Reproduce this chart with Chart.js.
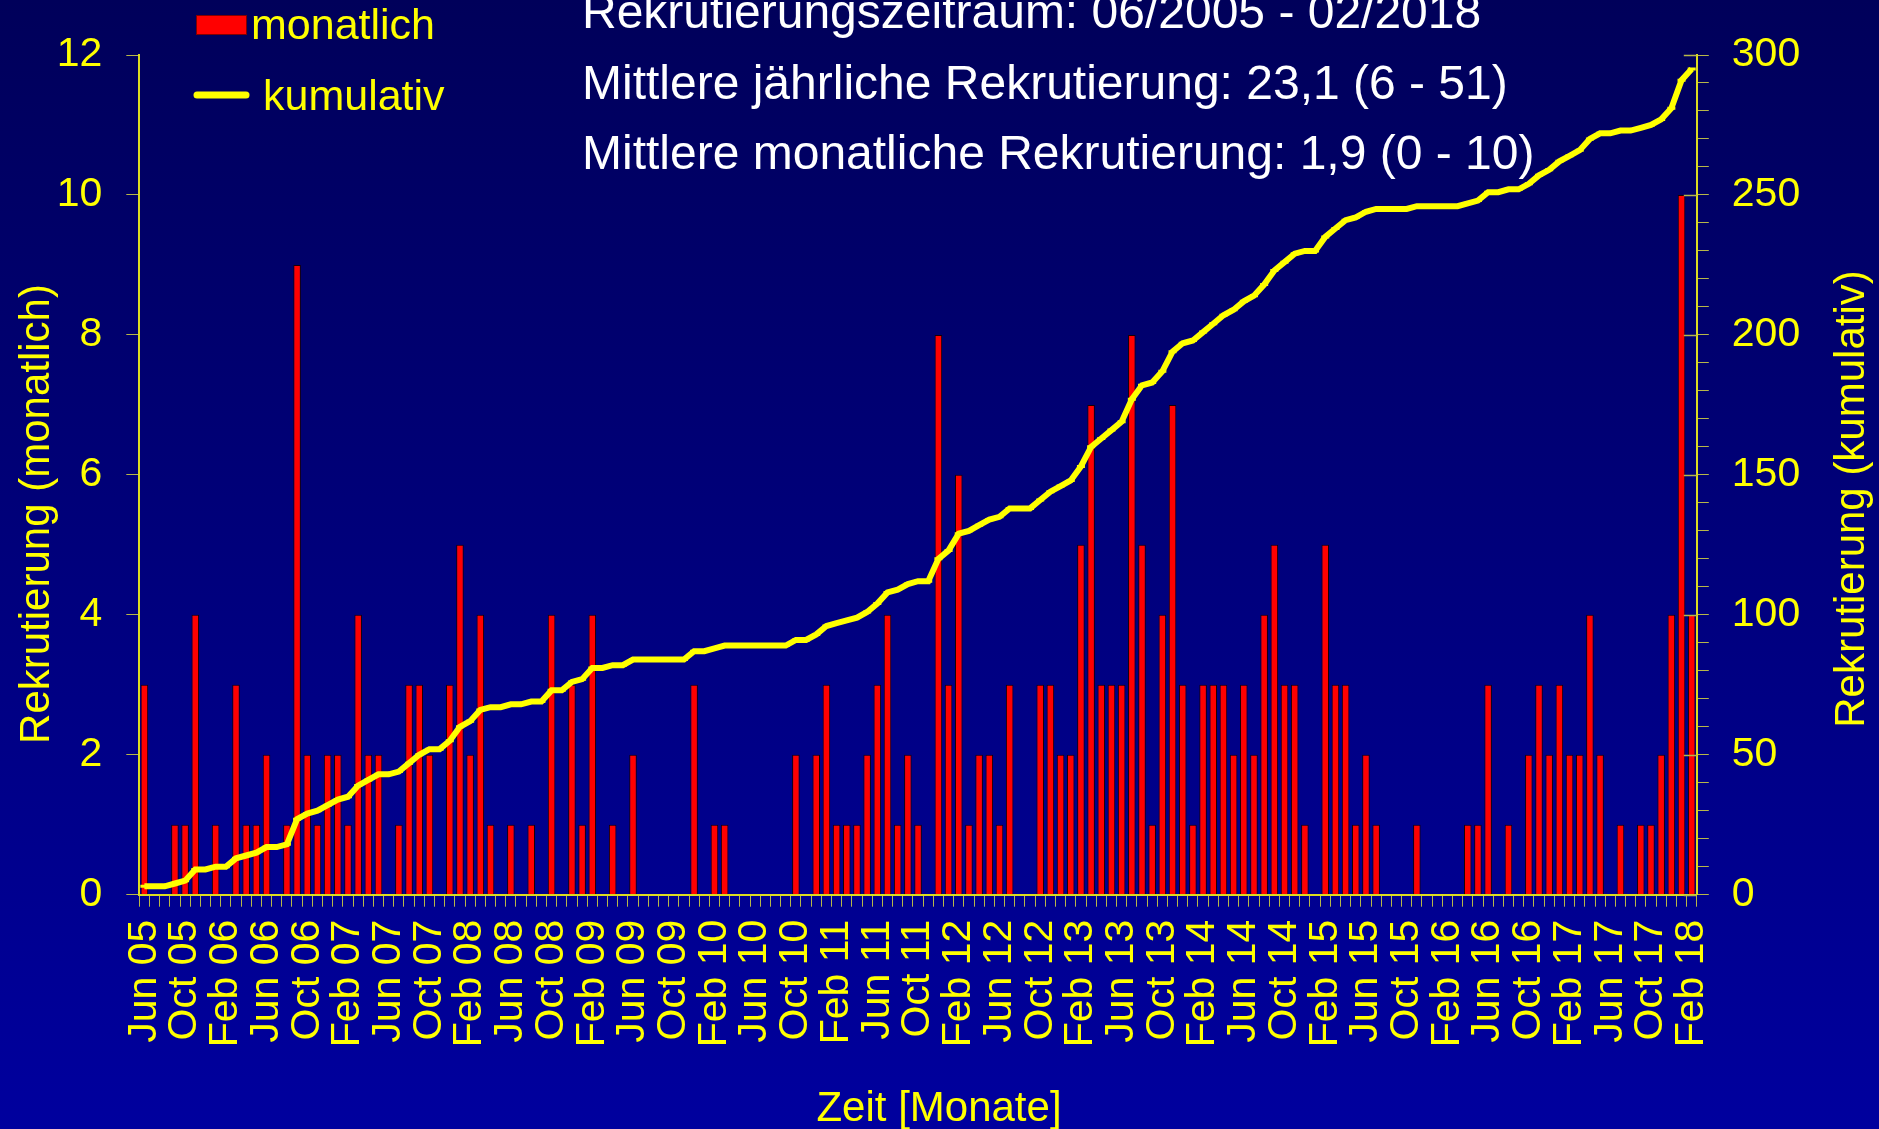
<!DOCTYPE html>
<html>
<head>
<meta charset="utf-8">
<script src="https://cdn.jsdelivr.net/npm/chart.js@4.4.1/dist/chart.umd.min.js"></script>
<style>
html,body{margin:0;padding:0;}
body{width:1879px;height:1129px;overflow:hidden;background:linear-gradient(to bottom,#00005a 0%,#00009e 100%);}
#wrap{position:relative;width:1879px;height:1129px;}
canvas{display:block;}
</style>
</head>
<body>
<div id="wrap"><canvas id="c" width="1879" height="1129"></canvas></div>
<script>
// ---- data ----
const categories = [
 "Jun 05","Jul 05","Aug 05","Sep 05","Oct 05","Nov 05","Dec 05",
 "Jan 06","Feb 06","Mar 06","Apr 06","May 06","Jun 06","Jul 06","Aug 06","Sep 06","Oct 06","Nov 06","Dec 06",
 "Jan 07","Feb 07","Mar 07","Apr 07","May 07","Jun 07","Jul 07","Aug 07","Sep 07","Oct 07","Nov 07","Dec 07",
 "Jan 08","Feb 08","Mar 08","Apr 08","May 08","Jun 08","Jul 08","Aug 08","Sep 08","Oct 08","Nov 08","Dec 08",
 "Jan 09","Feb 09","Mar 09","Apr 09","May 09","Jun 09","Jul 09","Aug 09","Sep 09","Oct 09","Nov 09","Dec 09",
 "Jan 10","Feb 10","Mar 10","Apr 10","May 10","Jun 10","Jul 10","Aug 10","Sep 10","Oct 10","Nov 10","Dec 10",
 "Jan 11","Feb 11","Mar 11","Apr 11","May 11","Jun 11","Jul 11","Aug 11","Sep 11","Oct 11","Nov 11","Dec 11",
 "Jan 12","Feb 12","Mar 12","Apr 12","May 12","Jun 12","Jul 12","Aug 12","Sep 12","Oct 12","Nov 12","Dec 12",
 "Jan 13","Feb 13","Mar 13","Apr 13","May 13","Jun 13","Jul 13","Aug 13","Sep 13","Oct 13","Nov 13","Dec 13",
 "Jan 14","Feb 14","Mar 14","Apr 14","May 14","Jun 14","Jul 14","Aug 14","Sep 14","Oct 14","Nov 14","Dec 14",
 "Jan 15","Feb 15","Mar 15","Apr 15","May 15","Jun 15","Jul 15","Aug 15","Sep 15","Oct 15","Nov 15","Dec 15",
 "Jan 16","Feb 16","Mar 16","Apr 16","May 16","Jun 16","Jul 16","Aug 16","Sep 16","Oct 16","Nov 16","Dec 16",
 "Jan 17","Feb 17","Mar 17","Apr 17","May 17","Jun 17","Jul 17","Aug 17","Sep 17","Oct 17","Nov 17","Dec 17",
 "Jan 18","Feb 18"
];

const tickLabels = [
 "Jun 05","Oct 05","Feb 06","Jun 06","Oct 06","Feb 07","Jun 07","Oct 07","Feb 08","Jun 08","Oct 08",
 "Feb 09","Jun 09","Oct 09","Feb 10","Jun 10","Oct 10","Feb 11","Jun 11","Oct 11","Feb 12","Jun 12",
 "Oct 12","Feb 13","Jun 13","Oct 13","Feb 14","Jun 14","Oct 14","Feb 15","Jun 15","Oct 15","Feb 16",
 "Jun 16","Oct 16","Feb 17","Jun 17","Oct 17","Feb 18"
];

const monthly = [
 3,0,0,1,1,4,0,1,0,3,
 1,1,2,0,1,9,2,1,2,2,
 1,4,2,2,0,1,3,3,2,0,
 3,5,2,4,1,0,1,0,1,0,
 4,0,3,1,4,0,1,0,2,0,
 0,0,0,0,3,0,1,1,0,0,
 0,0,0,0,2,0,2,3,1,1,
 1,2,3,4,1,2,1,0,8,3,
 6,1,2,2,1,3,0,0,3,3,
 2,2,5,7,3,3,3,8,5,1,
 4,7,3,1,3,3,3,2,3,2,
 4,5,3,3,1,0,5,3,3,1,
 2,1,0,0,0,1,0,0,0,0,
 1,1,3,0,1,0,2,3,2,3,
 2,2,4,2,0,1,0,1,1,2,
 4,10,4
];

const cumulative = [
 3,3,3,4,5,9,9,10,10,13,
 14,15,17,17,18,27,29,30,32,34,
 35,39,41,43,43,44,47,50,52,52,
 55,60,62,66,67,67,68,68,69,69,
 73,73,76,77,81,81,82,82,84,84,
 84,84,84,84,87,87,88,89,89,89,
 89,89,89,89,91,91,93,96,97,98,
 99,101,104,108,109,111,112,112,120,123,
 129,130,132,134,135,138,138,138,141,144,
 146,148,153,160,163,166,169,177,182,183,
 187,194,197,198,201,204,207,209,212,214,
 218,223,226,229,230,230,235,238,241,242,
 244,245,245,245,245,246,246,246,246,246,
 247,248,251,251,252,252,254,257,259,262,
 264,266,270,272,272,273,273,274,275,277,
 281,291,295
];

const leftTicks = [0,2,4,6,8,10,12];
const rightTicks = [0,50,100,150,200,250,300];

const headerLines = [
 "Rekrutierungszeitraum: 06/2005 - 02/2018",
 "Mittlere jährliche Rekrutierung: 23,1 (6 - 51)",
 "Mittlere monatliche Rekrutierung: 1,9 (0 - 10)"
];
const seriesNames = ["monatlich","kumulativ"];
const leftTitle = "Rekrutierung (monatlich)";
const rightTitle = "Rekrutierung (kumulativ)";
const xTitle = "Zeit [Monate]";

// ---- chart ----
const FONT = "'Liberation Sans', Arial, Helvetica, sans-serif";
Chart.defaults.font.family = FONT;
const tickSet = new Set(tickLabels);
const TICKCOL = '#b8b848';
const AXISCOL = '#dcdc20';

const decorPlugin = {
  id: 'decor',
  afterDraw(chart) {
    const ctx = chart.ctx;
    const ca = chart.chartArea;
    const y1 = chart.scales.y1;
    ctx.save();
    // inner part of major ticks on right axis
    ctx.strokeStyle = TICKCOL;
    ctx.lineWidth = 1.5;
    rightTicks.forEach(v => {
      const py = Math.round(y1.getPixelForValue(v)) + 0.5;
      ctx.beginPath();
      ctx.moveTo(ca.right - 13, py);
      ctx.lineTo(ca.right, py);
      ctx.stroke();
    });
    // header
    ctx.fillStyle = '#ffffff';
    ctx.font = "48px " + FONT;
    ctx.textAlign = 'left';
    ctx.textBaseline = 'alphabetic';
    const hb = [28, 98.7, 169.3];
    headerLines.forEach((t, i) => ctx.fillText(t, 582, hb[i]));
    // legend
    ctx.fillStyle = '#ff0000';
    ctx.fillRect(196, 15, 51, 20);
    ctx.strokeStyle = '#800000';
    ctx.lineWidth = 1;
    ctx.strokeRect(196.5, 15.5, 50, 19);
    ctx.strokeStyle = '#ffff00';
    ctx.lineWidth = 7;
    ctx.lineCap = 'round';
    ctx.beginPath();
    ctx.moveTo(197, 95);
    ctx.lineTo(246, 95);
    ctx.stroke();
    ctx.lineCap = 'butt';
    ctx.fillStyle = '#ffff00';
    ctx.font = "43px " + FONT;
    ctx.fillText(seriesNames[0], 251, 39.3);
    ctx.fillText(seriesNames[1], 263, 110);
    // axis titles
    ctx.font = "42px " + FONT;
    ctx.textAlign = 'center';
    ctx.fillText(xTitle, 939, 1121);
    ctx.save();
    ctx.translate(49, 514);
    ctx.rotate(-Math.PI / 2);
    ctx.fillText(leftTitle, 0, 0);
    ctx.restore();
    ctx.save();
    ctx.translate(1864, 499);
    ctx.rotate(-Math.PI / 2);
    ctx.fillText(rightTitle, 0, 0);
    ctx.restore();
    ctx.restore();
  }
};

new Chart(document.getElementById('c').getContext('2d'), {
  type: 'bar',
  data: {
    labels: categories,
    datasets: [
      {
        type: 'line',
        label: seriesNames[1],
        data: cumulative,
        yAxisID: 'y1',
        borderColor: '#ffff00',
        borderWidth: 6,
        tension: 0,
        fill: false,
        pointStyle: 'line',
        pointRadius: 4,
        pointBorderWidth: 3,
        pointBorderColor: '#ffff00',
        pointBackgroundColor: '#ffff00',
        order: 0
      },
      {
        type: 'bar',
        label: seriesNames[0],
        data: monthly,
        yAxisID: 'y',
        backgroundColor: '#ff0000',
        borderColor: '#1a0000',
        borderWidth: 1,
        categoryPercentage: 1.0,
        barPercentage: 0.74,
        order: 1
      }
    ]
  },
  options: {
    responsive: false,
    animation: false,
    devicePixelRatio: 1,
    layout: { padding: { top: 55, left: 0, right: 0, bottom: 0 } },
    plugins: { legend: { display: false }, tooltip: { enabled: false }, title: { display: false } },
    scales: {
      x: {
        offset: true,
        grid: { display: true, drawOnChartArea: false, offset: true, tickLength: 12, color: TICKCOL, lineWidth: 1 },
        border: { display: true, color: AXISCOL, width: 2 },
        ticks: {
          autoSkip: false, maxRotation: 90, minRotation: 90,
          color: '#ffff00', font: { size: 41 }, padding: 13,
          callback: function (v, i) { return tickSet.has(categories[i]) ? categories[i] : ''; }
        },
        afterFit(s) { s.height = 1129 - 894.7; }
      },
      y: {
        position: 'left', min: 0, max: 12,
        afterBuildTicks(s) { s.ticks = leftTicks.map(v => ({ value: v })); },
        ticks: { color: '#ffff00', font: { size: 41 }, padding: 24 },
        grid: { display: true, drawOnChartArea: false, tickLength: 13, color: TICKCOL },
        border: { display: true, color: AXISCOL, width: 2 },
        afterFit(s) { s.width = 139.3; }
      },
      y1: {
        position: 'right', min: 0, max: 300,
        ticks: {
          stepSize: 10, autoSkip: false,
          color: '#ffff00', font: { size: 41 }, padding: 23,
          callback: function (v) { return rightTicks.includes(v) ? String(v) : ''; }
        },
        grid: { display: true, drawOnChartArea: false, tickLength: 12, color: TICKCOL },
        border: { display: true, color: AXISCOL, width: 2 },
        afterFit(s) { s.width = 1879 - 1696.8; }
      }
    }
  },
  plugins: [decorPlugin]
});
</script>
</body>
</html>
